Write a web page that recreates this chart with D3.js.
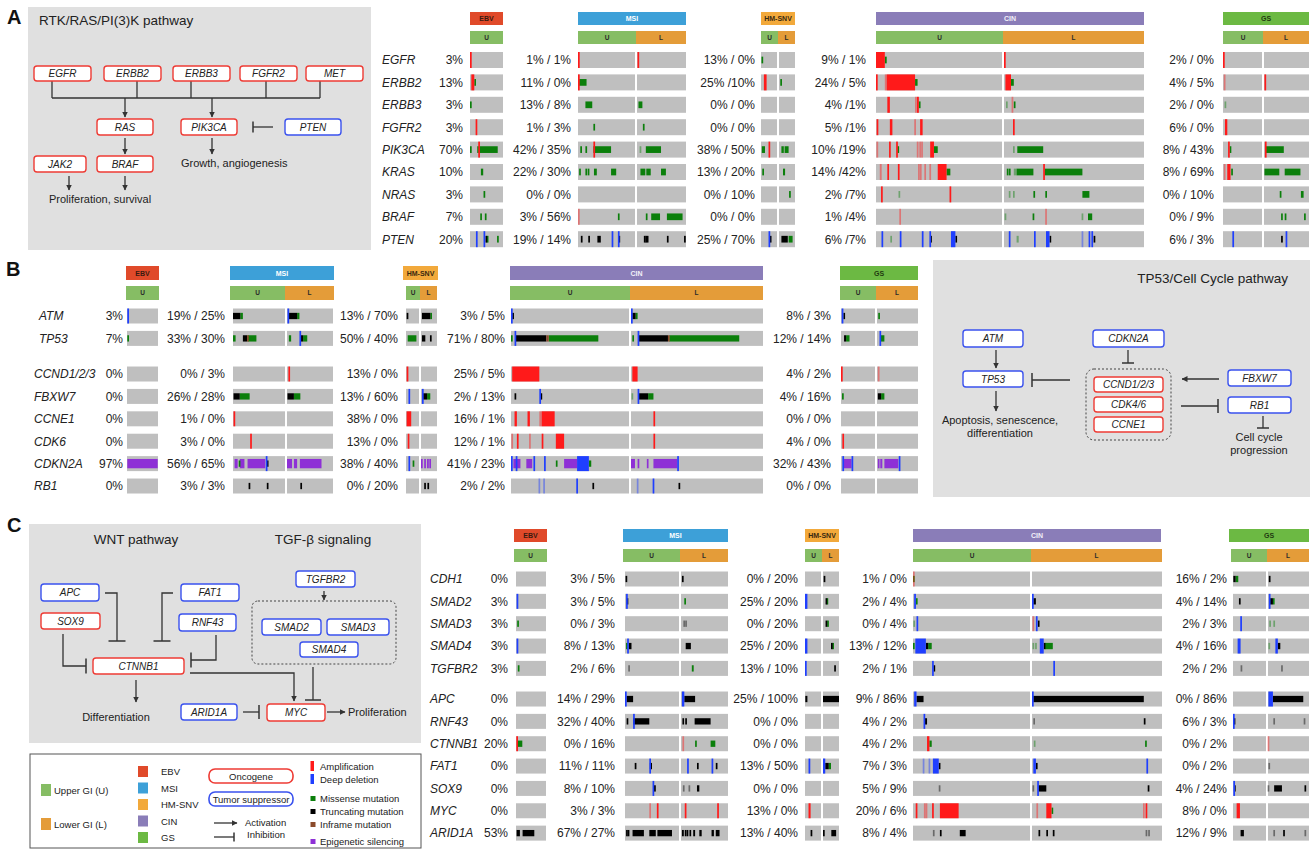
<!DOCTYPE html>
<html><head><meta charset="utf-8">
<script src="https://cdn.jsdelivr.net/npm/d3@7"></script>
<style>
body{margin:0;background:#fff}
text{font-family:"Liberation Sans",Arial,sans-serif;fill:#222}
</style></head><body>
<script>
// ---------- data ----------
const groupKeys = ['EBV','MSI','HM','CIN','GS']
const groupLabels = ['EBV','MSI','HM-SNV','CIN','GS']

// panel A
const genesA = ['EGFR','ERBB2','ERBB3','FGFR2','PIK3CA','KRAS','NRAS','BRAF','PTEN']
const ebvA = ['3%','13%','3%','3%','70%','10%','3%','7%','20%']
const msiA = ['1% / 1%','11% / 0%','13% / 8%','1% / 3%','42% / 35%','22% / 30%','0% / 0%','3% / 56%','19% / 14%']
const hmA  = ['13% / 0%','25% /10%','0% / 0%','0% / 0%','38% / 50%','13% / 20%','0% / 10%','0% / 0%','25% / 70%']
const cinA = ['9% / 1%','24% / 5%','4% /1%','5% /1%','10% /19%','14% /42%','2% /7%','1% /4%','6% /7%']
const gsA  = ['2% / 0%','4% / 5%','2% / 0%','6% / 0%','8% / 43%','8% / 69%','0% / 10%','0% / 9%','6% / 3%']

// panel B
const genesB1 = ['ATM','TP53']
const genesB2 = ['CCND1/2/3','FBXW7','CCNE1','CDK6','CDKN2A','RB1']
const ebvB = ['3%','7%','0%','0%','0%','0%','97%','0%']
const msiB = ['19% / 25%','33% / 30%','0% / 3%','26% / 28%','1% / 0%','3% / 0%','56% / 65%','3% / 3%']
const hmB  = ['13% / 70%','50% / 40%','13% / 0%','13% / 60%','38% / 0%','13% / 0%','38% / 40%','0% / 20%']
const cinB = ['3% / 5%','71% / 80%','25% / 5%','2% / 13%','16% / 1%','12% / 1%','41% / 23%','2% / 2%']
const gsB  = ['8% / 3%','12% / 14%','4% / 2%','4% / 16%','0% / 0%','4% / 0%','32% / 43%','0% / 0%']

// panel C
const genesC1 = ['CDH1','SMAD2','SMAD3','SMAD4','TGFBR2']
const genesC2 = ['APC','RNF43','CTNNB1','FAT1','SOX9','MYC','ARID1A']
const ebvC = ['0%','3%','3%','3%','3%','0%','0%','20%','0%','0%','0%','53%']
const msiC = ['3% / 5%','3% / 5%','0% / 3%','8% / 13%','2% / 6%','14% / 29%','32% / 40%','0% / 16%','11% / 11%','8% / 10%','3% / 3%','67% / 27%']
const hmC  = ['0% / 20%','25% / 20%','0% / 20%','25% / 20%','13% / 10%','25% / 100%','0% / 0%','0% / 0%','13% / 50%','0% / 0%','13% / 0%','13% / 40%']
const cinC = ['1% / 0%','2% / 4%','0% / 4%','13% / 12%','2% / 1%','9% / 86%','4% / 2%','4% / 2%','7% / 3%','5% / 9%','20% / 6%','8% / 4%']
const gsC  = ['16% / 2%','4% / 14%','2% / 3%','4% / 16%','2% / 2%','0% / 86%','6% / 3%','0% / 2%','0% / 2%','4% / 24%','8% / 0%','12% / 9%']

// alteration marks: "gene group segment: type from to, ..." (position in % of the segment,
// A amplification, D deep deletion, M missense, T truncating, I inframe, E epigenetic; lowercase = faint)
const marksA = [
'EGFR EBV U: A 0 3','EGFR MSI U: A 0 2','EGFR MSI L: A 1 2','EGFR HM U: M 3 8',
'EGFR CIN U: A 0 7, M 7 8.5','EGFR CIN L: A 0 1','EGFR GS U: A 0 2',
'ERBB2 EBV U: A 4 13, M 13 17','ERBB2 MSI U: A 0 2, M 2 15','ERBB2 HM U: A 18 35','ERBB2 HM L: M 8 12',
'ERBB2 CIN U: A 0 1, a 7 8.5, A 8.5 31, M 31 33','ERBB2 CIN L: A 1 5, M 5 7','ERBB2 GS U: a 2 4','ERBB2 GS L: A 1 3',
'ERBB3 EBV U: M 0 3','ERBB3 MSI U: M 13 25','ERBB3 MSI L: M 3 11',
'ERBB3 CIN U: A 9 11, a 31 32, A 32.5 34, M 34 35','ERBB3 CIN L: m 2 2, a 6 6, M 7 7.5','ERBB3 GS U: m 4 6',
'FGFR2 EBV U: A 17 20','FGFR2 MSI U: M 27 28','FGFR2 MSI L: M 12 13.5',
'FGFR2 CIN U: A 0.5 1.3, A 11 13, a 31 31, A 35 37','FGFR2 CIN L: A 7 7','FGFR2 GS U: A 5 11',
'PIK3CA EBV U: M 0 3, M 22 84, A 25 28','PIK3CA MSI U: M 4 5, M 13 15, M 27 58, A 27 28.5','PIK3CA MSI L: m 7 7, M 18 49',
'PIK3CA HM U: M 5 25, A 47 52','PIK3CA HM L: M 15 30, M 35 60',
'PIK3CA CIN U: a 1 1, A 11 11, A 16 17, M 17 18, a 33 33, a 35 35, a 36.5 36.5, A 43 46, M 46 49','PIK3CA CIN L: m 7 7, M 9.5 28',
'PIK3CA GS U: A 13 15, M 17 19','PIK3CA GS L: A 2 4, M 4 44',
'KRAS EBV U: M 33 40','KRAS MSI U: M 2 3.5, M 13 14.5, M 17 19, M 28 33, M 58 67','KRAS MSI L: M 7 17, M 19 28, M 49 59',
'KRAS HM U: M 8 12','KRAS HM L: M 25 38',
'KRAS CIN U: a 3 4.5, A 9 10, A 18 18, a 34 34, a 35.5 35.5, a 39 39, a 43 43, A 49 56, M 56 59',
'KRAS CIN L: M 2 2.5, M 3.5 4, m 7 9, M 9 21, A 28 29, M 29 56',
'KRAS GS U: a 2 4, A 13 13, A 17 17, M 21 22','KRAS GS L: M 1 34, M 46 81',
'NRAS EBV U: M 41 44','NRAS HM L: M 63 66','NRAS CIN U: A 4 5, m 18.5 18.5, A 59 59',
'NRAS CIN L: m 4 4, m 7 7, M 21 21.5, M 29.5 30, M 56 61','NRAS GS L: M 35 37, M 82 88',
'BRAF EBV U: M 31 33, M 45 47','BRAF MSI U: a 0 2, M 70 71','BRAF MSI L: M 18 19, M 29 47, M 61 93',
'BRAF CIN U: a 18.5 19.5','BRAF CIN L: m 1 1, M 21 21, a 30 30, m 56 56, M 60 63','BRAF GS L: M 38 39.5, M 46 47.5, M 89 90.5',
'PTEN EBV U: D 18 21, D 41 44, T 47 50, M 50 56, M 82 85',
'PTEN MSI U: T 5 6, T 18 19.5, T 34 40, D 59 60.5, D 70 71.5, T 71 73','PTEN MSI L: T 14 15, T 17 18, T 20 22, T 61 62.5, T 96 97.5',
'PTEN HM U: D 47 52, T 55 62','PTEN HM L: T 15 55, M 60 85',
'PTEN CIN U: D 5 5, m 12 12, D 19.5 19.5, D 37 37, D 43 43, T 43 44, D 59.5 63, T 63 64',
'PTEN CIN L: D 4 4, m 9 10.5, D 22 22, D 30 32.5, T 32.5 33.5, d 56 56, D 61 61, D 63 63, T 64 65',
'PTEN GS U: D 24 28','PTEN GS L: T 38 39.5, D 48 50'
]
const marksB = [
'ATM EBV U: D 1 3','ATM MSI U: T 0 14, M 14 19','ATM MSI L: D 1 2, T 3 22, M 22 27','ATM HM U: T 5 12','ATM HM L: T 6 58, M 58 65',
'ATM CIN U: D 0 1, T 1 2.5','ATM CIN L: D 0 1, T 1 3.5, M 3.5 5','ATM GS U: D 2 7, T 7 8','ATM GS L: M 3 4',
'TP53 EBV U: M 1 4','TP53 MSI U: M 0 5, T 19 27, I 27 28, M 28 45','TP53 MSI L: M 4 9, D 27 28, T 29 35, M 35 44',
'TP53 HM U: M 13 80','TP53 HM L: T 6 27, T 56 62',
'TP53 CIN U: M 0 1, D 3 4, T 4 30, I 30 32, M 32 74','TP53 CIN L: M 1 2, D 5 6, T 6 28, I 28 29, M 29 82',
'TP53 GS U: T 9 15, M 15 25','TP53 GS L: D 6 7, M 8 18',
'CCND1/2/3 MSI L: A 3 4','CCND1/2/3 HM U: A 5 13','CCND1/2/3 CIN U: A 1 24','CCND1/2/3 CIN L: A 1 5','CCND1/2/3 GS U: A 0 2','CCND1/2/3 GS L: a 2 3',
'FBXW7 MSI U: T 1 13, M 13 32','FBXW7 MSI L: T 1 15, M 15 29','FBXW7 HM U: D 19 24','FBXW7 HM L: D 6 10, T 13 38, M 38 58',
'FBXW7 CIN U: T 3 4, D 24 25, T 25 26','FBXW7 CIN L: m 1 1, D 5 6, T 6 13, M 13 17','FBXW7 GS U: M 3 5','FBXW7 GS L: T 2 10, M 10 18',
'CCNE1 MSI U: A 1 1.5','CCNE1 HM U: A 5 40','CCNE1 CIN U: A 3 5, A 14 16, a 24 26, A 26 37','CCNE1 CIN L: A 17 18',
'CDK6 MSI U: A 33 34','CDK6 HM U: A 13 18','CDK6 CIN U: a 1 1, A 5 6, a 16 16, A 26 27, A 38 45','CDK6 CIN L: A 17 18','CDK6 GS U: A 4 6',
'CDKN2A EBV U: E 1 99','CDKN2A MSI U: E 3 9, M 11 12, E 13 22, E 28 62, D 63 64, T 65 66','CDKN2A MSI L: E 0 11, E 15 22, E 28 75',
'CDKN2A HM U: D 19 24, M 51 56','CDKN2A HM L: E 0 10, E 20 26, E 38 44, E 52 58',
'CDKN2A CIN U: D 0 1, E 2 8, D 4 5, E 13 18, D 19 20, D 28 29, M 38 39, E 45 56, D 56 66, M 66 68',
'CDKN2A CIN L: E 0 3, E 5 6, E 12 13, E 17 35, D 35 36','CDKN2A GS U: D 4 6, E 7 31, D 31 34','CDKN2A GS L: E 2 5, E 8 13, E 18 52, D 53 54',
'RB1 MSI U: T 30 31, T 65 66','RB1 MSI L: T 29 30','RB1 HM L: T 20 24, T 40 44',
'RB1 CIN U: d 24 24, d 28 28, D 56 56, T 69 70','RB1 CIN L: d 5 5, D 17 17, T 36 37'
]
const marksC = [
'CDH1 MSI U: T 1 2','CDH1 MSI L: T 2 4','CDH1 HM L: T 4 14','CDH1 CIN U: a 0 1, M 0 1','CDH1 GS U: T 1 8, M 8 16','CDH1 GS L: T 2 3',
'SMAD2 EBV U: D 2 4','SMAD2 MSI U: D 2 3, T 3 4','SMAD2 MSI L: M 7 9','SMAD2 HM U: D 0 15','SMAD2 HM L: T 16 22, M 22 32',
'SMAD2 CIN U: D 1 2.5, M 2.5 3.5','SMAD2 CIN L: D 0 1, T 1 3','SMAD2 GS U: T 18 19.5','SMAD2 GS L: D 2 3, T 5 12, M 12 15',
'SMAD3 EBV U: M 4 6','SMAD3 MSI L: t 5 6, t 9 10','SMAD3 HM L: T 16 20, M 26 36','SMAD3 CIN U: m 1 1, D 3 4',
'SMAD3 CIN L: a 1 1, D 3 4, T 4.5 5','SMAD3 GS U: D 22 23','SMAD3 GS L: m 5 5, m 15 15',
'SMAD4 EBV U: D 2 4','SMAD4 MSI U: M 2 4, D 4 7, T 7 12','SMAD4 MSI L: T 10 21','SMAD4 HM U: D 0 15','SMAD4 HM L: T 50 58, M 58 66',
'SMAD4 CIN U: M 0 1, D 2 11, T 11 13, M 13 16','SMAD4 CIN L: m 1 1, m 3 3, D 6 9, T 9 10, M 10 16','SMAD4 GS U: D 14 23','SMAD4 GS L: m 3 3, D 18 24, T 24 30',
'TGFBR2 EBV U: M 6 8','TGFBR2 MSI U: t 6 7','TGFBR2 MSI L: M 23 27','TGFBR2 HM U: D 0 7','TGFBR2 HM L: T 70 74',
'TGFBR2 CIN U: D 17 17, T 17.5 18','TGFBR2 CIN L: D 17 17','TGFBR2 GS U: t 23 24','TGFBR2 GS L: t 32 33',
'APC MSI U: D 0 1, T 3 15','APC MSI L: D 2 7, T 7 30','APC HM U: T 2 15','APC HM L: T 0 100','APC CIN U: D 1 3, T 3 9','APC CIN L: D 0 1, T 1 86','APC GS L: D 1 12, T 12 86',
'RNF43 MSI U: T 3 4, T 15 45, D 15 16','RNF43 MSI L: T 3 4, T 9 10, T 29 63','RNF43 CIN U: D 9 10, T 10 12','RNF43 CIN L: t 1 2, T 86 87',
'RNF43 GS U: D 0 2, T 2 3','RNF43 GS L: t 13 14, t 87 88',
'CTNNB1 EBV U: A 1 3, M 6 21','CTNNB1 MSI L: a 3 4, M 30 31, M 63 73','CTNNB1 CIN U: A 12 14, M 14 16','CTNNB1 CIN L: m 2 2, M 87 88','CTNNB1 GS L: a 1 1',
'FAT1 MSI U: T 18 19.5, D 45 46, T 46 50','FAT1 MSI L: D 13 14, T 34 35.5, D 65 66, T 74 75.5','FAT1 HM U: D 22 33','FAT1 HM L: D 0 14, T 14 36, M 36 50',
'FAT1 CIN U: d 9 9, d 14 14, D 17 22, T 22 23','FAT1 CIN L: D 1 3, T 3 4, D 88 89','FAT1 GS L: t 1 2',
'SOX9 MSI U: D 51 52, T 53 57','SOX9 MSI L: t 4 5, t 16 17, T 34 39','SOX9 CIN U: t 22 23','SOX9 CIN L: t 1 1, D 4 5, T 5 11, T 89 90',
'SOX9 GS U: D 1 3, T 3 4','SOX9 GS L: t 1 1, T 15 34, T 89 90',
'MYC MSI U: a 45 46, A 59 60','MYC MSI L: A 8 9, A 77 78','MYC HM U: A 22 35',
'MYC CIN U: A 3 3, a 10 10, a 11.5 11.5, A 17 17, A 23 39','MYC CIN L: a 4 4, A 11 15, M 15 16, a 86 86, A 88 88','MYC GS U: A 11 21',
'ARID1A EBV U: T 2 13, T 22 61','ARID1A MSI U: T 2 4, T 5 7, T 14 35, T 45 57, T 60 87',
'ARID1A MSI L: T 2 6, T 8 10, T 12 14, T 18 20, T 26 30, T 39 44, T 65 70, T 74 82',
'ARID1A HM U: T 35 40','ARID1A HM L: T 0 4, T 52 82','ARID1A CIN U: t 17 18, T 23 24, T 40 45',
'ARID1A CIN L: T 5 6, T 11 12, T 16 17, t 88 88, t 90 90','ARID1A GS U: T 23 33','ARID1A GS L: t 13 14, T 37 38.5, t 89 90'
]

// ---------- styles / layout ----------
const groupColors = {EBV:'#e04a2a', MSI:'#3da0d8', HM:'#f2a93b', CIN:'#8a7db8', GS:'#6cb943'}
const groupText = {EBV:'#3a1a10', MSI:'#fff', HM:'#3a2a10', CIN:'#f2f0f8', GS:'#1f3a10'}
const segColors = {U:'#86bd64', L:'#e49c39'}
const trackFill = '#bfbfbf'
const markStyle = {
  E:{fill:'#8e30d6', h:0.62, o:0}, M:{fill:'#0b7f0b', h:0.42, o:1}, T:{fill:'#000', h:0.42, o:2},
  I:{fill:'#8b4a2b', h:0.42, o:3}, A:{fill:'#ff1a1a', h:1.0, o:4}, D:{fill:'#1f3fff', h:1.0, o:5}
}
const oncColor = '#ee3b34', supColor = '#3a52ee', lineColor = '#333'

const layoutA = {nameX:[382], hdrY:12, ulY:31, barH:13, trackH:16, y0:60, step:22.4, gap:0,
  groups:{
    EBV:{hdr:[470,503], ul:[470,503], segs:{U:[470,503]}, pctX:463},
    MSI:{hdr:[578,686], ul:[578,636,686], segs:{U:[578,635],L:[637,686]}, pctX:571},
    HM:{hdr:[761,795], ul:[761,778,795], segs:{U:[761,777],L:[779,795]}, pctX:755},
    CIN:{hdr:[876,1144], ul:[876,1003,1144], segs:{U:[876,1002],L:[1004,1144]}, pctX:866},
    GS:{hdr:[1223,1309], ul:[1223,1263,1309], segs:{U:[1223,1262],L:[1264,1309]}, pctX:1214}}}
const layoutB = {nameX:[39,34], hdrY:266, ulY:286, barH:14, trackH:15, y0:316, step:22.4, gap:0.59,
  groups:{
    EBV:{hdr:[126,159], ul:[126,159], segs:{U:[127,158]}, pctX:123},
    MSI:{hdr:[230,334], ul:[230,285,334], segs:{U:[233,285],L:[287,333]}, pctX:225},
    HM:{hdr:[403,438], ul:[406,420,437], segs:{U:[406,419],L:[421,437]}, pctX:398},
    CIN:{hdr:[510,763], ul:[510,630,763], segs:{U:[511,629],L:[631,763]}, pctX:505},
    GS:{hdr:[840,918], ul:[840,876,918], segs:{U:[841,875],L:[877,918]}, pctX:831}}}
const layoutC = {nameX:[430,430], hdrY:529, ulY:549, barH:13, trackH:15, y0:579, step:22.35, gap:0.37,
  groups:{
    EBV:{hdr:[514,547], ul:[514,547], segs:{U:[516,546]}, pctX:508},
    MSI:{hdr:[623,728], ul:[623,680,728], segs:{U:[625,679],L:[681,728]}, pctX:615},
    HM:{hdr:[805,839], ul:[805,822,839], segs:{U:[805,821],L:[823,839]}, pctX:798},
    CIN:{hdr:[913,1161], ul:[913,1031,1162], segs:{U:[913,1030],L:[1032,1162]}, pctX:907},
    GS:{hdr:[1229,1309], ul:[1231,1267,1309], segs:{U:[1233,1266],L:[1268,1309]}, pctX:1227}}}

const svg = d3.select('body').append('svg').attr('width',1312).attr('height',851)
svg.append('rect').attr('width',1312).attr('height',851).attr('fill','#fff')
const defs = svg.append('defs')
defs.append('marker').attr('id','arr').attr('viewBox','0 0 6 6').attr('refX',5.5).attr('refY',3)
  .attr('markerWidth',6).attr('markerHeight',6).attr('markerUnits','userSpaceOnUse').attr('orient','auto')
  .append('path').attr('d','M0,0L6,3L0,6Z').attr('fill',lineColor)

function parseMarks(lines){
  const out = []
  lines.forEach(line => {
    const [head, body] = line.split(':')
    const [gene, grp, seg] = head.trim().split(/\s+/)
    body.split(',').forEach(s => {
      const [t, a, b] = s.trim().split(/\s+/)
      out.push({gene, grp, seg, type:t.toUpperCase(), faint:t !== t.toUpperCase(), from:+a, to:+b})
    })
  })
  return out.sort((p,q) => markStyle[p.type].o - markStyle[q.type].o)
}

function drawTracks(blocks, pct, marks, L){
  const g = svg.append('g')
  const genes = blocks.flat()
  const rowY = d3.scaleLinear().domain([0,1]).range([L.y0, L.y0+L.step])
  const rows = {}
  let idx = 0
  blocks.forEach((b,bi) => b.forEach(gene => { rows[gene] = {y: rowY(idx + bi*L.gap), bi, i: idx}; idx++ }))

  groupKeys.forEach((k,gi) => {
    const G = L.groups[k]
    g.append('rect').attr('x',G.hdr[0]).attr('y',L.hdrY).attr('width',G.hdr[1]-G.hdr[0]).attr('height',L.barH).attr('fill',groupColors[k])
    g.append('text').attr('x',(G.hdr[0]+G.hdr[1])/2).attr('y',L.hdrY+L.barH/2+2.5).attr('text-anchor','middle')
      .attr('font-size',7).attr('font-weight','bold').style('fill',groupText[k]).text(groupLabels[gi])
    const ulParts = G.ul.length === 2 ? [['U',G.ul[0],G.ul[1]]] : [['U',G.ul[0],G.ul[1]],['L',G.ul[1],G.ul[2]]]
    ulParts.forEach(([s,a,b]) => {
      g.append('rect').attr('x',a).attr('y',L.ulY).attr('width',b-a).attr('height',L.barH).attr('fill',segColors[s])
      g.append('text').attr('x',(a+b)/2).attr('y',L.ulY+L.barH/2+2.3).attr('text-anchor','middle')
        .attr('font-size',6.5).attr('font-weight','bold').style('fill','#2a2a2a').text(s)
    })
    genes.forEach(gene => {
      const r = rows[gene]
      Object.values(G.segs).forEach(([a,b]) => {
        g.append('rect').attr('x',a).attr('y',r.y-L.trackH/2).attr('width',b-a).attr('height',L.trackH).attr('fill',trackFill)
      })
      g.append('text').attr('x',G.pctX).attr('y',r.y+4.3).attr('text-anchor','end').attr('font-size',12).text(pct[k][r.i])
    })
  })
  genes.forEach(gene => {
    const r = rows[gene]
    g.append('text').attr('x',L.nameX[r.bi] ?? L.nameX[0]).attr('y',r.y+4.3).attr('font-size',12).attr('font-style','italic').text(gene)
  })
  const scales = {}
  groupKeys.forEach(k => Object.entries(L.groups[k].segs).forEach(([s,ext]) => {
    scales[k+s] = d3.scaleLinear().domain([0,100]).range(ext)
  }))
  g.append('g').selectAll('rect').data(marks).join('rect')
    .attr('x', d => scales[d.grp+d.seg](d.from) - (d.from === d.to ? 0.8 : 0))
    .attr('width', d => Math.max(scales[d.grp+d.seg](d.to) - scales[d.grp+d.seg](d.from), 1.7))
    .attr('y', d => rows[d.gene].y - L.trackH*markStyle[d.type].h/2)
    .attr('height', d => L.trackH*markStyle[d.type].h)
    .attr('fill', d => markStyle[d.type].fill)
    .attr('opacity', d => d.faint ? 0.45 : 1)
}

// ---------- pathway diagrams ----------
function node(g, [label, x0, y0, x1, y1, kind]){
  g.append('rect').attr('x',x0).attr('y',y0).attr('width',x1-x0).attr('height',y1-y0).attr('rx',3)
    .attr('fill','#fff').attr('stroke',kind==='onc'?oncColor:supColor).attr('stroke-width',1.4)
  g.append('text').attr('x',(x0+x1)/2).attr('y',(y0+y1)/2+3.6).attr('text-anchor','middle')
    .attr('font-size',10).attr('font-style','italic').text(label)
}
function edge(g, [type, pts, bar]){
  const p = g.append('path').attr('d', d3.line()(pts)).attr('fill','none').attr('stroke',lineColor).attr('stroke-width',1.3)
  if(type === 'arrow') p.attr('marker-end','url(#arr)')
  if(type === 'inhibit'){
    const [x1,y1] = pts[pts.length-1], [x0,y0] = pts[pts.length-2]
    const len = bar || 12
    const vert = Math.abs(x1-x0) > Math.abs(y1-y0)
    g.append('line').attr('stroke',lineColor).attr('stroke-width',1.5)
      .attr('x1', vert ? x1 : x1-len/2).attr('x2', vert ? x1 : x1+len/2)
      .attr('y1', vert ? y1-len/2 : y1).attr('y2', vert ? y1+len/2 : y1)
  }
}
function label(g, x, y, txt, anchor, size){
  g.append('text').attr('x',x).attr('y',y).attr('text-anchor',anchor||'start').attr('font-size',size||11).text(txt)
}
function letter(x, y, t){
  svg.append('text').attr('x',x).attr('y',y).attr('font-size',20).attr('font-weight','bold').style('fill','#111').text(t)
}

// Panel A diagram
const dA = svg.append('g')
dA.append('rect').attr('x',28).attr('y',7).attr('width',343).attr('height',243).attr('fill','#e0e0e0')
label(dA, 39, 25, 'RTK/RAS/PI(3)K pathway', 'start', 13.5)
;[[52,81,52,98],[137,81,137,98],[191,81,191,98],[266,81,266,98],[320,81,320,98]].forEach(([a,b,c,d]) => edge(dA,['line',[[a,b],[c,d]]]))
edge(dA,['line',[[52,98],[320,98]]])
edge(dA,['arrow',[[125,98],[125,117]]])
edge(dA,['arrow',[[212,98],[212,117]]])
edge(dA,['inhibit',[[273,127],[253,127]],11])
edge(dA,['arrow',[[125,138],[125,154]]])
edge(dA,['arrow',[[212,138],[212,154]]])
edge(dA,['arrow',[[69,176],[69,190]]])
edge(dA,['arrow',[[125,176],[125,190]]])
;[['EGFR',34,66,91,81,'onc'],['ERBB2',104,66,161,81,'onc'],['ERBB3',173,66,230,81,'onc'],['FGFR2',240,66,297,81,'onc'],
 ['MET',306,66,363,81,'onc'],['RAS',97,119,153,135,'onc'],['PIK3CA',181,119,237,135,'onc'],['PTEN',285,119,341,135,'sup'],
 ['JAK2',34,156,86,172,'onc'],['BRAF',97,156,153,172,'onc']].forEach(n => node(dA,n))
label(dA, 181, 167, 'Growth, angiogenesis')
label(dA, 49, 203, 'Proliferation, survival')

// Panel B diagram
const dB = svg.append('g')
dB.append('rect').attr('x',933).attr('y',260).attr('width',377).attr('height',237).attr('fill','#e0e0e0')
label(dB, 1288, 283, 'TP53/Cell Cycle pathway', 'end', 13.5)
dB.append('rect').attr('x',1086).attr('y',369).attr('width',85).attr('height',71).attr('rx',8)
  .attr('fill','none').attr('stroke','#444').attr('stroke-width',1).attr('stroke-dasharray','2,2')
edge(dB,['arrow',[[996,350],[996,368]]])
edge(dB,['arrow',[[996,391],[996,411]]])
edge(dB,['inhibit',[[1070,380],[1032,380]],14])
edge(dB,['inhibit',[[1128,350],[1128,363]],12])
edge(dB,['arrow',[[1219,379],[1182,379]]])
edge(dB,['inhibit',[[1181,406],[1218,406]],14])
edge(dB,['inhibit',[[1263,416],[1263,428]],12])
;[['ATM',963,330,1023,347,'sup'],['TP53',963,371,1023,387,'sup'],['CDKN2A',1093,330,1164,347,'sup'],
 ['CCND1/2/3',1094,377,1163,392,'onc'],['CDK4/6',1094,397,1163,412,'onc'],['CCNE1',1094,417,1163,432,'onc'],
 ['FBXW7',1228,370,1291,386,'sup'],['RB1',1228,397,1291,413,'sup']].forEach(n => node(dB,n))
label(dB, 1000, 424, 'Apoptosis, senescence,', 'middle')
label(dB, 1000, 437, 'differentiation', 'middle')
label(dB, 1259, 441, 'Cell cycle', 'middle')
label(dB, 1259, 454, 'progression', 'middle')

// Panel C diagram
const dC = svg.append('g')
dC.append('rect').attr('x',29).attr('y',524).attr('width',392).attr('height',219).attr('fill','#e0e0e0')
label(dC, 136, 544, 'WNT pathway', 'middle', 13.5)
label(dC, 323, 544, 'TGF-β signaling', 'middle', 13.5)
dC.append('rect').attr('x',252).attr('y',601).attr('width',144).attr('height',63).attr('rx',6)
  .attr('fill','none').attr('stroke','#444').attr('stroke-width',1).attr('stroke-dasharray','2,2')
edge(dC,['inhibit',[[105,593],[117,593],[117,641]],17])
edge(dC,['inhibit',[[173,593],[162,593],[162,641]],17])
edge(dC,['inhibit',[[63,634],[63,666],[86,666]],15])
edge(dC,['inhibit',[[216,635],[216,660],[191,660]],15])
edge(dC,['arrow',[[136,680],[136,702]]])
edge(dC,['arrow',[[190,673],[294,673],[294,701]]])
edge(dC,['arrow',[[324,591],[324,600]]])
edge(dC,['inhibit',[[313,667],[313,700]],16])
edge(dC,['inhibit',[[243,712],[259,712]],14])
edge(dC,['arrow',[[327,712],[345,712]]])
;[['APC',41,584,99,601,'sup'],['SOX9',41,613,100,629,'onc'],['FAT1',181,584,239,601,'sup'],['RNF43',179,614,236,631,'sup'],
 ['CTNNB1',93,658,184,674,'onc'],['TGFBR2',296,571,355,587,'sup'],['SMAD2',262,619,321,635,'sup'],['SMAD3',327,619,389,635,'sup'],
 ['SMAD4',300,642,358,657,'sup'],['ARID1A',181,704,237,720,'sup'],['MYC',267,704,325,721,'onc']].forEach(n => node(dC,n))
label(dC, 116, 721, 'Differentiation', 'middle')
label(dC, 348, 716, 'Proliferation')

// Legend
const lg = svg.append('g')
lg.append('rect').attr('x',30).attr('y',754).attr('width',391).attr('height',94).attr('fill','#fff').attr('stroke','#555').attr('stroke-width',1)
;[['Upper GI (U)','U',784],['Lower GI (L)','L',818]].forEach(([t,s,y]) => {
  lg.append('rect').attr('x',41).attr('y',y).attr('width',10).attr('height',12).attr('fill',segColors[s])
  label(lg, 54, y+9.5, t, 'start', 9.5)
})
groupKeys.forEach((k,i) => {
  const y = 766 + i*16.5
  lg.append('rect').attr('x',138).attr('y',y).attr('width',10).attr('height',11).attr('fill',groupColors[k])
  label(lg, 161, y+9, groupLabels[i], 'start', 9.5)
})
;[['Oncogene',769,oncColor],['Tumor suppressor',792,supColor]].forEach(([t,y,c]) => {
  lg.append('rect').attr('x',209).attr('y',y).attr('width',84).attr('height',14).attr('rx',6).attr('fill','#fff').attr('stroke',c).attr('stroke-width',1.6)
  label(lg, 251, y+10.5, t, 'middle', 9.5)
})
edge(lg,['arrow',[[214,823],[237,823]]])
edge(lg,['inhibit',[[214,837],[234,837]],9])
label(lg, 245, 826, 'Activation', 'start', 9.5)
label(lg, 247, 838, 'Inhibition', 'start', 9.5)
;[['Amplification','A',761,3.5,10],['Deep deletion','D',774,3.5,10],['Missense mutation','M',796,5,5],
 ['Truncating mutation','T',809,5,5],['Inframe mutation','I',822,5,5],['Epigenetic silencing','E',839,5,5]].forEach(([t,k,y,w,h]) => {
  lg.append('rect').attr('x',310.5).attr('y',y).attr('width',w).attr('height',h).attr('fill',markStyle[k].fill)
  label(lg, 320, y + (h > 6 ? 8.5 : 6), t, 'start', 9.5)
})

// Tracks
drawTracks([genesA], {EBV:ebvA, MSI:msiA, HM:hmA, CIN:cinA, GS:gsA}, parseMarks(marksA), layoutA)
drawTracks([genesB1, genesB2], {EBV:ebvB, MSI:msiB, HM:hmB, CIN:cinB, GS:gsB}, parseMarks(marksB), layoutB)
drawTracks([genesC1, genesC2], {EBV:ebvC, MSI:msiC, HM:hmC, CIN:cinC, GS:gsC}, parseMarks(marksC), layoutC)

letter(7, 24, 'A')
letter(6, 276, 'B')
letter(7, 532, 'C')
</script></body></html>
